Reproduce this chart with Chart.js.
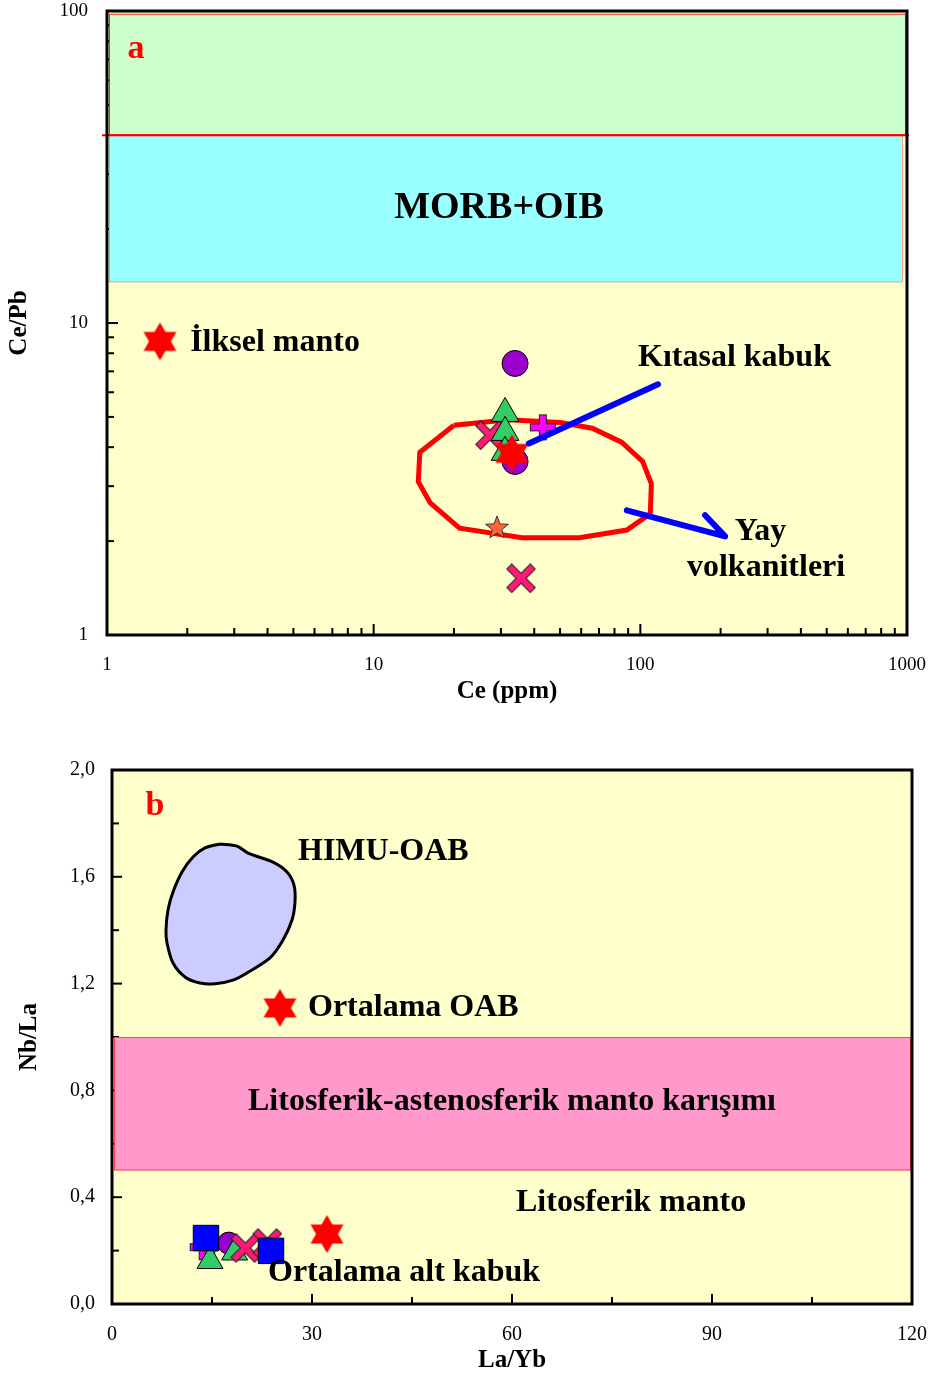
<!DOCTYPE html>
<html>
<head>
<meta charset="utf-8">
<script src="https://cdn.jsdelivr.net/npm/chart.js@4.4.0/dist/chart.umd.min.js"></script>
<style>
    body { margin: 0; background: #fff; }
    #chartA { position: absolute; left: 0; top: -6px; }
    #chartB { position: absolute; left: 0; top: 715px; }
</style>
</head>
<body>
<canvas id="chartA" width="931" height="721"></canvas>
<canvas id="chartB" width="931" height="665"></canvas>
<script>
// ---- a: Ce (ppm) - Ce/Pb ----
const circleCe = [33.9, 33.9];
const circleCePb = [7.42, 3.60];
const triangleCe = [31.1, 31.1, 31.1];
const triangleCePb = [5.13, 4.46, 3.85];
const crossCe = [27.3, 35.7];
const crossCePb = [4.37, 1.52];
const plusCe = [43.1];
const plusCePb = [4.63];
const starCe = [29.0];
const starCePb = [2.22];
const hexCe = [1.58, 33.0];
const hexCePb = [8.73, 3.82];

// yay volkanitleri alanı
const arcCe = [20, 32, 50, 66, 85, 102, 110, 109, 89, 59, 36, 21, 16.3, 14.7, 14.9, 20];
const arcCePb = [4.7, 4.9, 4.8, 4.6, 4.15, 3.6, 3.05, 2.45, 2.17, 2.05, 2.05, 2.2, 2.65, 3.1, 3.85, 4.7];

// oklar
const crustArrowCe = [38.2, 116.5];
const crustArrowCePb = [4.11, 6.36];
const arcArrowCe = [89, 208, 175];
const arcArrowCePb = [2.51, 2.07, 2.42];

const upperBand = [40, 98];
const morbOibBand = [13.5, 40];

// ---- b: La/Yb - Nb/La ----
const squareLaYb = [14.1, 23.85];
const squareNbLa = [0.247, 0.199];
const triangleLaYb = [14.7, 18.4];
const triangleNbLa = [0.161, 0.193];
const circleLaYb = [17.5];
const circleNbLa = [0.228];
const crossLaYb = [20.0, 23.3];
const crossNbLa = [0.21, 0.228];
const plusLaYb = [13.6];
const plusNbLa = [0.213];
const starLaYb = [14.7];
const starNbLa = [0.202];
const hexLaYb = [25.2, 32.25];
const hexNbLa = [1.109, 0.262];

const himuLaYb = [16.2, 18.75, 20.4, 24.15, 26.25, 27.3, 27.45, 27.0, 25.65, 23.7, 20.25, 18.15, 15.45, 13.2, 10.95, 9.15, 8.25, 8.1, 8.4, 9.15, 10.5, 12.15, 13.95, 16.2];
const himuNbLa = [1.723, 1.715, 1.689, 1.655, 1.618, 1.569, 1.506, 1.438, 1.363, 1.296, 1.240, 1.213, 1.199, 1.202, 1.225, 1.277, 1.352, 1.401, 1.476, 1.543, 1.618, 1.674, 1.708, 1.723];

const mixBand = [0.5, 1.0];

const logTicksCe = [1, 10, 100, 1000];
const logTicksCePb = [1, 10, 100];

const pts = (xs, ys) => xs.map((x, i) => ({ x: x, y: ys[i] }));

const SERIF = '"Liberation Serif", "Times New Roman", serif';
Chart.defaults.font.family = SERIF;
Chart.defaults.color = '#000';

// marker images
function hexagram(r, fill) {
    const c = document.createElement('canvas');
    c.width = Math.ceil(r * 1.8) + 2;
    c.height = Math.ceil(r * 2) + 2;
    const g = c.getContext('2d');
    g.translate(c.width / 2, c.height / 2);
    g.fillStyle = fill;
    [0, Math.PI].forEach(rot => {
        g.beginPath();
        for (let k = 0; k < 3; k++) {
            const a = rot + k * 2 * Math.PI / 3;
            g.lineTo(r * Math.sin(a), -r * Math.cos(a));
        }
        g.closePath();
        g.fill();
    });
    return c;
}

function star5(r, fill) {
    const c = document.createElement('canvas');
    c.width = c.height = Math.ceil(r * 2) + 4;
    const g = c.getContext('2d');
    g.translate(c.width / 2, c.height / 2 + 1);
    g.beginPath();
    for (let k = 0; k < 10; k++) {
        const a = k * Math.PI / 5;
        const rr = k % 2 ? r * 0.42 : r;
        g.lineTo(rr * Math.sin(a), -rr * Math.cos(a));
    }
    g.closePath();
    g.fillStyle = fill;
    g.fill();
    g.strokeStyle = '#333';
    g.lineWidth = 1;
    g.stroke();
    return c;
}

function crossMark(size, fill, diagonal) {
    const c = document.createElement('canvas');
    c.width = c.height = size + 4;
    const g = c.getContext('2d');
    g.translate(c.width / 2, c.height / 2);
    if (diagonal) g.rotate(Math.PI / 4);
    const hl = diagonal ? size * 0.62 : size / 2 - 1;
    const t = 6;
    g.fillStyle = '#222';
    g.fillRect(-hl - 1, -t / 2 - 1, 2 * hl + 2, t + 2);
    g.fillRect(-t / 2 - 1, -hl - 1, t + 2, 2 * hl + 2);
    g.fillStyle = fill;
    g.fillRect(-hl, -t / 2, 2 * hl, t);
    g.fillRect(-t / 2, -hl, t, 2 * hl);
    return c;
}

const redHex = hexagram(19, '#FF0000');
const orangeStarA = star5(12, '#FF6633');
const orangeStarB = star5(11, '#FF6633');
const pinkCross = crossMark(26, '#FF1A75', true);
const magentaPlus = crossMark(26, '#FF00FF', false);

// background, inner ticks, bands, frame, text
const framePlugin = {
    id: 'frame',
    beforeDatasetsDraw(chart, args, opts) {
        const { ctx, chartArea: a, scales: { x, y } } = chart;
        ctx.save();
        ctx.fillStyle = '#FFFFCC';
        ctx.fillRect(a.left, a.top, a.width, a.height);

        ctx.strokeStyle = '#000';
        ctx.lineWidth = 2;
        x.ticks.forEach(t => {
            const px = x.getPixelForValue(t.value);
            const len = t.label ? opts.major : opts.minor;
            ctx.beginPath();
            ctx.moveTo(px, a.bottom);
            ctx.lineTo(px, a.bottom - len);
            ctx.stroke();
        });
        y.ticks.forEach(t => {
            const py = y.getPixelForValue(t.value);
            const len = t.label ? opts.major : opts.minor;
            ctx.beginPath();
            ctx.moveTo(a.left, py);
            ctx.lineTo(a.left + len, py);
            ctx.stroke();
        });

        (opts.bands || []).forEach(b => {
            const top = y.getPixelForValue(b.range[1]);
            const bot = y.getPixelForValue(b.range[0]);
            ctx.fillStyle = b.fill;
            ctx.fillRect(a.left + 2, top, a.width - b.inset, bot - top);
            ctx.strokeStyle = b.stroke;
            ctx.lineWidth = 1;
            ctx.strokeRect(a.left + 2.5, top + 0.5, a.width - b.inset - 1, bot - top - 1);
        });
        (opts.rules || []).forEach(r => {
            const py = y.getPixelForValue(r.value);
            ctx.strokeStyle = r.color;
            ctx.lineWidth = 2;
            ctx.beginPath();
            ctx.moveTo(a.left - 5, py);
            ctx.lineTo(a.right + 2, py);
            ctx.stroke();
        });
        ctx.restore();
    },
    afterDatasetsDraw(chart, args, opts) {
        const { ctx, chartArea: a, scales: { x, y } } = chart;
        ctx.save();
        ctx.textBaseline = 'middle';
        (opts.labels || []).forEach(l => {
            ctx.font = 'bold ' + l.size + 'px ' + SERIF;
            ctx.fillStyle = l.color || '#000';
            ctx.textAlign = l.align || 'left';
            ctx.fillText(l.text, x.getPixelForValue(l.x), y.getPixelForValue(l.y));
        });
        ctx.strokeStyle = '#000';
        ctx.lineWidth = 3;
        ctx.strokeRect(a.left, a.top, a.width, a.height);
        ctx.restore();
    }
};

function decades(min, max) {
    const out = [];
    for (let d = min; d < max; d *= 10) {
        for (let k = 1; k < 10; k++) out.push({ value: k * d });
    }
    out.push({ value: max });
    return out;
}

// keep the plot box exactly where layout.padding puts it
const fitX = h => s => { s.height = h; s.paddingLeft = 0; s.paddingRight = 0; };
const fitY = w => s => { s.width = w; s.paddingTop = 0; s.paddingBottom = 0; };

const markerBase = { borderColor: '#000', borderWidth: 1 };

new Chart(document.getElementById('chartA'), {
    type: 'scatter',
    data: {
        datasets: [
            { data: pts(arcCe, arcCePb), showLine: true, borderColor: '#FF0000', borderWidth: 5, pointRadius: 0, fill: false, order: 10 },
            { data: pts(circleCe, circleCePb), pointStyle: 'circle', pointRadius: 13, backgroundColor: '#9900CC', ...markerBase, order: 8 },
            { data: pts(crossCe, crossCePb), pointStyle: pinkCross, pointRadius: 10, order: 7 },
            { data: pts(plusCe, plusCePb), pointStyle: magentaPlus, pointRadius: 10, order: 6 },
            { data: pts(triangleCe, triangleCePb), pointStyle: 'triangle', pointRadius: 16, backgroundColor: '#33CC66', ...markerBase, order: 5 },
            { data: pts(starCe, starCePb), pointStyle: orangeStarA, pointRadius: 10, order: 4 },
            { data: pts(hexCe, hexCePb), pointStyle: redHex, pointRadius: 10, order: 3 },
            { data: pts(crustArrowCe, crustArrowCePb), showLine: true, borderColor: '#0000FF', borderWidth: 6, borderCapStyle: 'round', pointRadius: 0, order: 1 },
            { data: pts(arcArrowCe, arcArrowCePb), showLine: true, borderColor: '#0000FF', borderWidth: 6, borderCapStyle: 'round', borderJoinStyle: 'round', pointRadius: 0, order: 1 }
        ]
    },
    plugins: [framePlugin],
    options: {
        responsive: false,
        animation: false,
        events: [],
        layout: { padding: { top: 10, right: 24, left: 0, bottom: 0 } },
        scales: {
            x: {
                type: 'logarithmic', min: 1, max: 1000,
                grid: { display: false, drawTicks: false }, border: { display: false },
                afterBuildTicks: s => { s.ticks = decades(1, 1000); },
                afterFit: fitX(80),
                ticks: { autoSkip: false, maxRotation: 0, padding: 19, font: { size: 19 },
                    callback: v => logTicksCe.includes(v) ? String(v) : '' },
                title: { display: true, text: 'Ce (ppm)', font: { size: 25, weight: 'bold' }, padding: { top: 0, bottom: 8 } }
            },
            y: {
                type: 'logarithmic', min: 1, max: 100,
                grid: { display: false, drawTicks: false }, border: { display: false },
                afterBuildTicks: s => { s.ticks = decades(1, 100); },
                afterFit: fitY(107),
                ticks: { autoSkip: false, padding: 19, font: { size: 19 },
                    callback: v => logTicksCePb.includes(v) ? String(v) : '' },
                title: { display: true, text: 'Ce/Pb', font: { size: 25, weight: 'bold' }, padding: { top: 5, bottom: 0 } }
            }
        },
        plugins: {
            legend: { display: false },
            tooltip: { enabled: false },
            frame: {
                major: 11, minor: 7,
                bands: [
                    { range: upperBand, fill: '#CCFFCC', stroke: '#FF2222', inset: 3 },
                    { range: morbOibBand, fill: '#99FFFF', stroke: '#FF9988', inset: 6 }
                ],
                rules: [{ value: upperBand[0], color: '#FF0000' }],
                labels: [
                    { text: 'a', x: 1.285, y: 75.5, size: 34, color: '#FF0000', align: 'center' },
                    { text: 'MORB+OIB', x: 29.5, y: 23.3, size: 38, align: 'center' },
                    { text: 'İlksel manto', x: 2.05, y: 8.66, size: 32 },
                    { text: 'Kıtasal kabuk', x: 98, y: 7.76, size: 32 },
                    { text: 'Yay', x: 226, y: 2.14, size: 32 },
                    { text: 'volkanitleri', x: 149.6, y: 1.64, size: 32 }
                ]
            }
        }
    }
});

new Chart(document.getElementById('chartB'), {
    type: 'scatter',
    data: {
        datasets: [
            { data: pts(himuLaYb, himuNbLa), showLine: true, fill: 'shape', tension: 0.3, backgroundColor: '#CCCCFF', borderColor: '#000', borderWidth: 3, pointRadius: 0, order: 10 },
            { data: pts(plusLaYb, plusNbLa), pointStyle: magentaPlus, pointRadius: 10, order: 8 },
            { data: pts(starLaYb, starNbLa), pointStyle: orangeStarB, pointRadius: 10, order: 7 },
            { data: pts(circleLaYb, circleNbLa), pointStyle: 'circle', pointRadius: 11, backgroundColor: '#9900CC', ...markerBase, order: 6 },
            { data: pts(triangleLaYb, triangleNbLa), pointStyle: 'triangle', pointRadius: 15, backgroundColor: '#33CC66', ...markerBase, order: 5 },
            { data: pts(crossLaYb, crossNbLa), pointStyle: pinkCross, pointRadius: 10, order: 4 },
            { data: pts(squareLaYb, squareNbLa), pointStyle: 'rect', pointRadius: 18, backgroundColor: '#0000FF', ...markerBase, order: 2 },
            { data: pts(hexLaYb, hexNbLa), pointStyle: redHex, pointRadius: 10, order: 1 }
        ]
    },
    plugins: [framePlugin],
    options: {
        responsive: false,
        animation: false,
        events: [],
        layout: { padding: { top: 55, right: 19, left: 0, bottom: 0 } },
        scales: {
            x: {
                type: 'linear', min: 0, max: 120,
                grid: { display: false, drawTicks: false }, border: { display: false },
                afterFit: fitX(76),
                ticks: { stepSize: 15, autoSkip: false, maxRotation: 0, padding: 19, font: { size: 20 },
                    callback: v => v % 30 === 0 ? String(v) : '' },
                title: { display: true, text: 'La/Yb', font: { size: 25, weight: 'bold' }, padding: { top: 0, bottom: 4 } }
            },
            y: {
                type: 'linear', min: 0, max: 2,
                grid: { display: false, drawTicks: false }, border: { display: false },
                afterFit: fitY(112),
                ticks: { stepSize: 0.2, autoSkip: false, padding: 17, font: { size: 20 },
                    callback: v => Math.round(v * 10) % 4 === 0 ? v.toFixed(1).replace('.', ',') : '' },
                title: { display: true, text: 'Nb/La', font: { size: 25, weight: 'bold' }, padding: { top: 15, bottom: 0 } }
            }
        },
        plugins: {
            legend: { display: false },
            tooltip: { enabled: false },
            frame: {
                major: 10, minor: 7,
                bands: [
                    { range: mixBand, fill: '#FF99CC', stroke: '#FF4444', inset: 3 }
                ],
                labels: [
                    { text: 'b', x: 6.45, y: 1.865, size: 34, color: '#FF0000', align: 'center' },
                    { text: 'HIMU-OAB', x: 27.9, y: 1.693, size: 32 },
                    { text: 'Ortalama OAB', x: 29.4, y: 1.109, size: 32 },
                    { text: 'Litosferik-astenosferik manto karışımı', x: 60, y: 0.757, size: 32, align: 'center' },
                    { text: 'Litosferik manto', x: 60.6, y: 0.378, size: 32 },
                    { text: 'Ortalama alt kabuk', x: 23.4, y: 0.116, size: 32 }
                ]
            }
        }
    }
});
</script>
</body>
</html>
